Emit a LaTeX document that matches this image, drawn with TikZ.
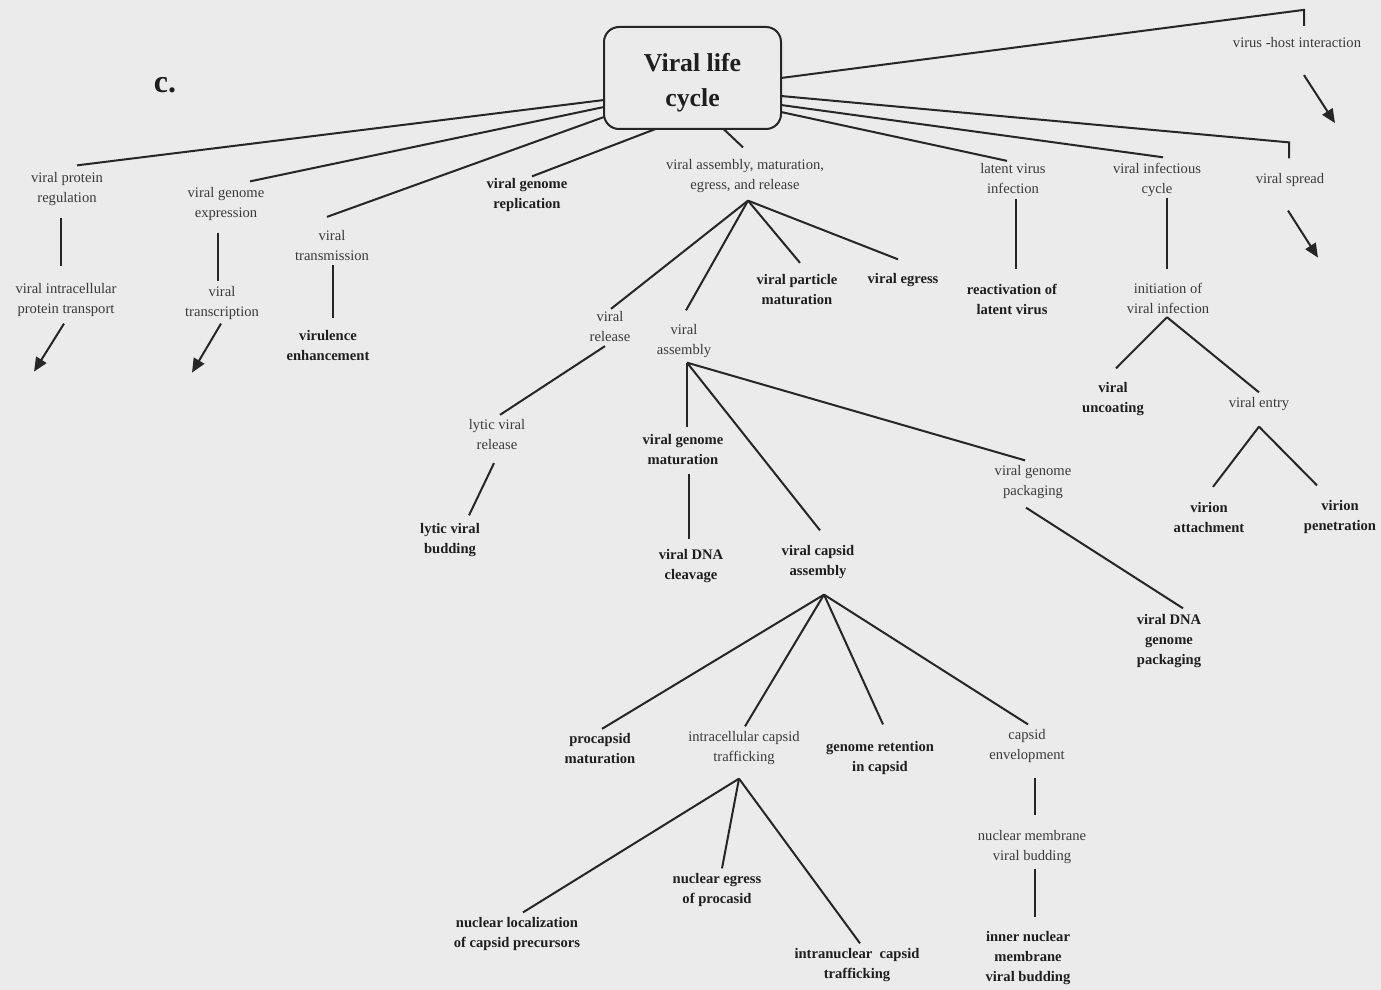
\documentclass[tikz,border=0pt]{standalone}
\usepackage{fontspec}
\setmainfont{Liberation Serif}
\usetikzlibrary{arrows.meta}
\definecolor{paper}{HTML}{EBEBEB}
\definecolor{ink}{HTML}{262626}
\definecolor{txt}{HTML}{3A3A3A}
\definecolor{btxt}{HTML}{1E1E1E}
\begin{document}
\begin{tikzpicture}[x=0.5pt,y=-0.5pt,
  every node/.style={inner sep=0pt, outer sep=0pt},
  lbl/.style={font=\fontsize{7.3}{10}\selectfont, text=txt, align=center},
  blbl/.style={font=\fontsize{7.3}{10}\selectfont\bfseries, text=btxt, align=center},
  link/.style={draw=ink, line width=1pt},
  arr/.style={link, -{Triangle[length=7pt,width=6pt]}},
]
\fill[paper] (0,0) rectangle (1381,990);
\useasboundingbox (0,0) rectangle (1381,990);

% root box, its title and the panel tag
\node[draw=ink, line width=1pt, rounded corners=7.5pt, minimum width=88.5pt,
      minimum height=51pt] (root) at (692.5,78) {};
\node[align=center, font=\fontsize{12.9}{17.5}\selectfont\bfseries, text=btxt]
      (roottitle) at ([yshift=-2.5pt]root.center) {Viral life\\cycle};
\node[font=\fontsize{16}{16}\selectfont\bfseries, text=btxt] (tag) at (165,85) {c.};

% terms
\node[lbl]  (vpr)   at (67,189)   {viral protein\\regulation};
\node[lbl]  (vipt)  at (66,300)   {viral intracellular\\protein transport};
\node[lbl]  (vge)   at (226,204)  {viral genome\\expression};
\node[lbl]  (vtsc)  at (222,303)  {viral\\transcription};
\node[lbl]  (vtrans) at (332,246) {viral\\transmission};
\node[blbl] (virul) at (328,346)  {virulence\\enhancement};
\node[blbl] (vgr)   at (527,195)  {viral genome\\replication};
\node[lbl]  (vamer) at (745,176)  {viral assembly, maturation,\\egress, and release};
\node[lbl]  (vrel)  at (610,327)  {viral\\release};
\node[lbl]  (vass)  at (684,341)  {viral\\assembly};
\node[blbl] (vpm)   at (797,290)  {viral particle\\maturation};
\node[blbl] (vegr)  at (903,280)  {viral egress};
\node[lbl]  (lvr)   at (497,435)  {lytic viral\\release};
\node[blbl] (lvb)   at (450,540)  {lytic viral\\budding};
\node[blbl] (vgm)   at (683,450)  {viral genome\\maturation};
\node[blbl] (vdc)   at (691,566)  {viral DNA\\cleavage};
\node[blbl] (vca)   at (818,562)  {viral capsid\\assembly};
\node[lbl]  (vgp)   at (1033,482) {viral genome\\packaging};
\node[blbl] (vdgp)  at (1169,641) {viral DNA\\genome\\packaging};
\node[blbl] (pm)    at (600,749)  {procapsid\\maturation};
\node[lbl]  (ict)   at (744,748)  {intracellular capsid\\trafficking};
\node[blbl] (grc)   at (880,758)  {genome retention\\in capsid};
\node[lbl]  (ce)    at (1027,746) {capsid\\envelopment};
\node[blbl] (nl)    at (517,934)  {nuclear localization\\of capsid precursors};
\node[blbl] (ne)    at (717,890)  {nuclear egress\\of procasid};
\node[blbl] (inct)  at (857,965)  {intranuclear\ \ capsid\\trafficking};
\node[lbl]  (nmvb)  at (1032,847) {nuclear membrane\\viral budding};
\node[blbl] (inmvb) at (1028,958) {inner nuclear\\membrane\\viral budding};
\node[lbl]  (lvi)   at (1013,179) {latent virus\\infection};
\node[blbl] (react) at (1012,299) {reactivation of\\latent virus};
\node[lbl]  (vic)   at (1157,180) {viral infectious\\cycle};
\node[lbl]  (init)  at (1168,298) {initiation of\\viral infection};
\node[blbl] (vunc)  at (1113,399) {viral\\uncoating};
\node[lbl]  (vent)  at (1259,404) {viral entry};
\node[blbl] (vatt)  at (1209,518) {virion\\attachment};
\node[blbl] (vpen)  at (1340,517) {virion\\penetration};
\node[lbl]  (vspr)  at (1290,180) {viral spread};
\node[lbl]  (vhi)   at (1297,43)  {virus -host interaction};

% branches leaving the root, left side
\draw[link] ([shift={(0,22)}]root.west) -- ([shift={(10,-7)}]vpr.north);
\draw[link] ([shift={(0,29)}]root.west) -- ([shift={(24,-6)}]vge.north);
\draw[link] ([shift={(0,39)}]root.west) -- ([shift={(-5,-14)}]vtrans.north);
\draw[link] ([shift={(-37,0)}]root.south) -- ([shift={(5,-2)}]vgr.north);
\draw[link] ([shift={(31,0)}]root.south) -- ([shift={(-2,-12)}]vamer.north);

% branches leaving the root, right side
\draw[link] (root.east) -- ([shift={(7,-28)}]vhi.north) -- ([shift={(7,-12)}]vhi.north);
\draw[link] ([shift={(0,18)}]root.east) -- ([shift={(-1,-31)}]vspr.north) -- ([shift={(-1,-15)}]vspr.north);
\draw[link] ([shift={(0,27)}]root.east) -- ([shift={(6,-6)}]vic.north);
\draw[link] ([shift={(0,34)}]root.east) -- ([shift={(-6,-3)}]lvi.north);

% open-ended continuations
\draw[arr] ([shift={(7,27)}]vhi.south) -- ++(31,48);
\draw[arr] ([shift={(-2,24)}]vspr.south) -- ++(30,47);
\draw[arr] ([shift={(-2,7)}]vipt.south) -- ++(-30,48);
\draw[arr] ([shift={(-1,4)}]vtsc.south) -- ++(-29,49);

% single children
\draw[link] ([shift={(-6,12)}]vpr.south) -- ([shift={(-5,-17)}]vipt.north);
\draw[link] ([shift={(-8,12)}]vge.south) -- ([shift={(-4,-5)}]vtsc.north);
\draw[link] ([shift={(1,4)}]vtrans.south) -- ([shift={(5,-13)}]virul.north);
\draw[link] ([shift={(3,5)}]lvi.south) -- ([shift={(4,-15)}]react.north);
\draw[link] ([shift={(10,1)}]vic.south) -- ([shift={(-1,-14)}]init.north);

% assembly, maturation, egress and release
\coordinate (vamer-fork) at ([shift={(3,8)}]vamer.south);
\draw[link] (vamer-fork) -- ([shift={(1,-3)}]vrel.north);
\draw[link] (vamer-fork) -- ([shift={(2,-14)}]vass.north);
\draw[link] (vamer-fork) -- ([shift={(3,-12)}]vpm.north);
\draw[link] (vamer-fork) -- ([shift={(-5,-14)}]vegr.north);
\draw[link] ([shift={(-5,4)}]vrel.south) -- ([shift={(3,-5)}]lvr.north);
\draw[link] ([shift={(-3,13)}]lvr.south) -- ([shift={(19,-8)}]lvb.north);

% viral assembly
\coordinate (vass-fork) at ([shift={(3,5)}]vass.south);
\draw[link] (vass-fork) -- ([shift={(4,-8)}]vgm.north);
\draw[link] (vass-fork) -- ([shift={(2,-15)}]vca.north);
\draw[link] (vass-fork) -- ([shift={(-8,-5)}]vgp.north);
\draw[link] ([shift={(6,9)}]vgm.south) -- ([shift={(-2,-10)}]vdc.north);
\draw[link] ([shift={(-7,9)}]vgp.south) -- ([shift={(14,-6)}]vdgp.north);

% viral capsid assembly
\coordinate (vca-fork) at ([shift={(6,16)}]vca.south);
\draw[link] (vca-fork) -- ([shift={(2,-5)}]pm.north);
\draw[link] (vca-fork) -- ([shift={(1,-5)}]ict.north);
\draw[link] (vca-fork) -- ([shift={(3,-17)}]grc.north);
\draw[link] (vca-fork) -- ([shift={(1,-5)}]ce.north);

% intracellular capsid trafficking
\coordinate (ict-fork) at ([shift={(-5,14)}]ict.south);
\draw[link] (ict-fork) -- ([shift={(6,-5)}]nl.north);
\draw[link] (ict-fork) -- ([shift={(5,-5)}]ne.north);
\draw[link] (ict-fork) -- ([shift={(3,-5)}]inct.north);
\draw[link] ([shift={(8,15)}]ce.south) -- ([shift={(3,-15)}]nmvb.north);
\draw[link] ([shift={(3,5)}]nmvb.south) -- ([shift={(7,-14)}]inmvb.north);

% initiation of viral infection
\coordinate (init-fork) at ([shift={(-1,4)}]init.south);
\draw[link] (init-fork) -- ([shift={(3,-14)}]vunc.north);
\draw[link] (init-fork) -- ([shift={(0,-5)}]vent.north);
\coordinate (vent-fork) at ([shift={(0,16)}]vent.south);
\draw[link] (vent-fork) -- ([shift={(4,-16)}]vatt.north);
\draw[link] (vent-fork) -- ([shift={(-23,-15)}]vpen.north);
\end{tikzpicture}
\end{document}
